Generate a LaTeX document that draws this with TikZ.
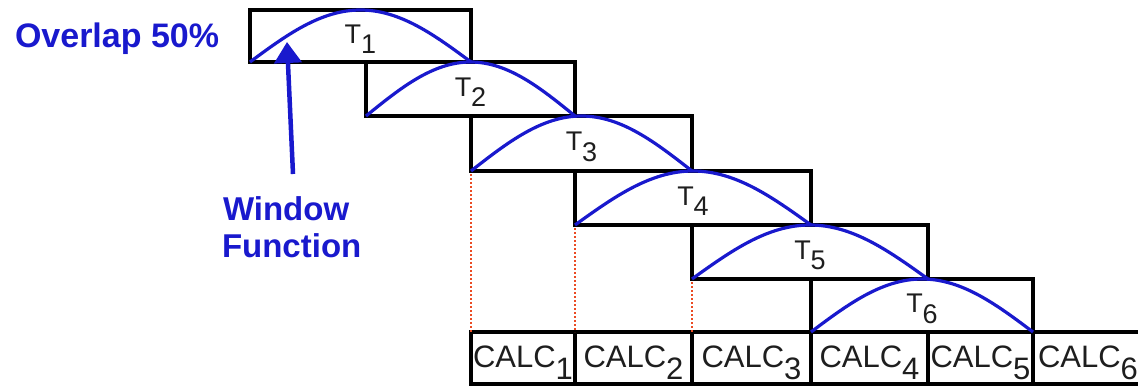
\documentclass[tikz,border=0pt]{standalone}
\usepackage{fontspec}
\setmainfont{Liberation Sans}
\usetikzlibrary{arrows.meta}
\definecolor{wblue}{RGB}{25,25,205}
\definecolor{dotred}{RGB}{235,75,35}
\definecolor{lbl}{RGB}{30,30,30}
\newcommand\lowsub[1]{\raisebox{-0.4em}{#1}}
\begin{document}
\begin{tikzpicture}[x=1pt,y=-1pt,
  boxbase/.style={draw=black, line width=3.2pt, rectangle, anchor=north west,
    inner sep=0pt, outer sep=0pt, text=lbl},
  tbox/.style={boxbase, font=\fontsize{27}{30}\selectfont, text height=18pt, text depth=4pt},
  cbox/.style={boxbase, minimum height=52pt, font=\fontsize{31}{36}\selectfont, text height=22pt, text depth=3pt},
  warc/.style={draw=wblue, line width=3.2pt},
  warrow/.style={draw=wblue, line width=4.5pt, -{Triangle[width=27pt,length=21pt]}},
  reddot/.style={draw=dotred, line width=2.6pt, dash pattern=on 2pt off 2pt},
  bluetext/.style={text=wblue, inner sep=0pt, outer sep=0pt, anchor=base west}]
\useasboundingbox (0,0) rectangle (1138,386);
% window blocks
\node[tbox, minimum width=221pt, minimum height=52pt] (T1) at (250,10) {T\lowsub{1}};
\node[tbox, minimum width=209pt, minimum height=54pt] (T2) at (366,62) {T\lowsub{2}};
\node[tbox, minimum width=221pt, minimum height=55pt] (T3) at (471,116) {T\lowsub{3}};
\node[tbox, minimum width=236pt, minimum height=54pt] (T4) at (575,171) {T\lowsub{4}};
\node[tbox, minimum width=236pt, minimum height=54pt] (T5) at (692,225) {T\lowsub{5}};
\node[tbox, minimum width=222pt, minimum height=53pt] (T6) at (811,279) {T\lowsub{6}};
% calc blocks
\node[cbox, minimum width=104pt] (C1) at (471,332) {CALC\lowsub{1}};
\node[cbox, minimum width=117pt] (C2) at (575,332) {CALC\lowsub{2}};
\node[cbox, minimum width=119pt] (C3) at (692,332) {CALC\lowsub{3}};
\node[cbox, minimum width=117pt] (C4) at (811,332) {CALC\lowsub{4}};
\node[cbox, minimum width=105pt] (C5) at (928,332) {CALC\lowsub{5}};
\node[cbox, minimum width=110pt] (C6) at (1033,332) {CALC\lowsub{6}};
% window functions
\foreach \t in {T1,T2,T3,T4,T5,T6}
  \draw[warc] (\t.south west) sin (\t.north) cos (\t.south east);
% dotted guides
\draw[reddot] ([yshift=-3pt]T3.south west) -- (C1.north west);
\draw[reddot] ([yshift=-3pt]T4.south west) -- (C2.north west);
\draw[reddot] ([yshift=-3pt]T5.south west) -- (C3.north west);
% labels
\node[bluetext, font=\fontsize{34}{40}\selectfont\bfseries] (ovl) at (15,47) {Overlap 50\%};
\node[bluetext, font=\fontsize{33}{38}\selectfont\bfseries] (win) at (223,220) {Window};
\node[bluetext, font=\fontsize{33}{38}\selectfont\bfseries] (fun) at (222,257) {Function};
\coordinate (atail) at (293,174);
\coordinate (atip) at (287,42);
\draw[warrow] (atail) -- (atip);
\end{tikzpicture}
\end{document}
